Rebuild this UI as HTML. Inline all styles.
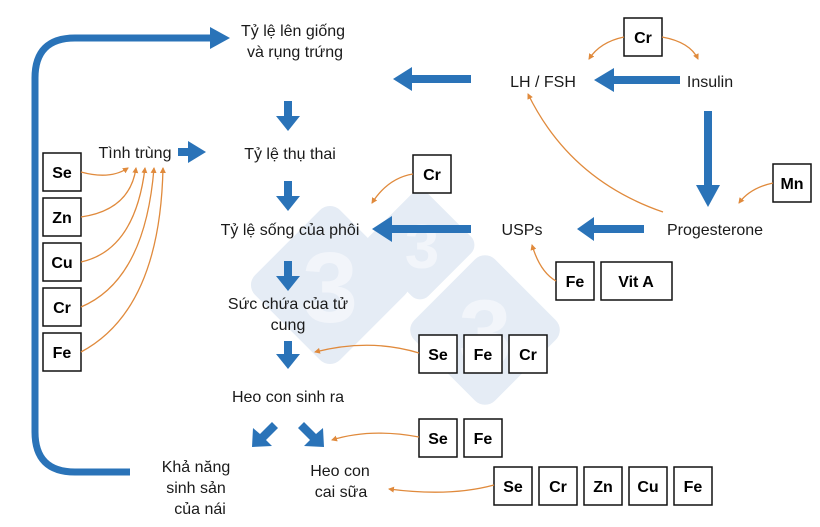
<!DOCTYPE html>
<html><head><meta charset="utf-8"><style>
html,body{margin:0;padding:0;background:#fff;}
svg{display:block}
text{font-family:"Liberation Sans","DejaVu Sans",sans-serif;font-size:16px;fill:#1a1a1a}
.b{font-weight:bold;font-size:16px;fill:#000}
.bx{fill:#fff;stroke:#111;stroke-width:1.5}
.o{fill:none;stroke:#e08a3c;stroke-width:1.3}
.bl{fill:#2a73b8}
</style></head><body>
<svg width="820" height="527" viewBox="0 0 820 527" xmlns="http://www.w3.org/2000/svg">
<defs>
<marker id="oa" markerWidth="6" markerHeight="6" refX="5" refY="3" orient="auto" markerUnits="userSpaceOnUse"><path d="M0,0 L6,3 L0,6 Z" fill="#e08a3c"/></marker>
</defs>
<g fill="#e5ecf5">
<rect x="270" y="225" width="120" height="120" rx="14" transform="rotate(45 330 285)"/>
<rect x="378" y="203" width="84" height="84" rx="12" transform="rotate(45 420 245)"/>
<rect x="428" y="273" width="114" height="114" rx="14" transform="rotate(45 485 330)"/>
</g>
<g font-family="Liberation Sans,sans-serif" font-weight="bold" text-anchor="middle">
<text x="330" y="322" style="fill:#f2f5fa;font-size:100px">3</text>
<text x="422" y="268" style="fill:#f2f5fa;font-size:62px">3</text>
<text x="485" y="366" style="fill:#f2f5fa;font-size:95px">3</text>
</g>
<path d="M130,472 L75,472 Q35,472 35,432 L35,78 Q35,38 75,38 L212,38" fill="none" stroke="#2a73b8" stroke-width="7"/>
<polygon class="bl" points="210,27 230,38 210,49"/>
<g class="bl">
<rect x="284" y="101" width="8" height="17"/><polygon points="276,116 300,116 288,131"/>
<rect x="284" y="181" width="8" height="17"/><polygon points="276,196 300,196 288,211"/>
<rect x="284" y="261" width="8" height="17"/><polygon points="276,276 300,276 288,291"/>
<rect x="284" y="341" width="8" height="15"/><polygon points="276,354 300,354 288,369"/>
<rect x="178" y="148" width="12" height="8"/><polygon points="188,141 206,152 188,163"/>
<rect x="410" y="75" width="61" height="8"/><polygon points="412,67 393,79 412,91"/>
<rect x="612" y="76" width="68" height="8"/><polygon points="614,68 594,80 614,92"/>
<rect x="704" y="111" width="8" height="76"/><polygon points="696,185 720,185 708,207"/>
<rect x="592" y="225" width="52" height="8"/><polygon points="594,217 577,229 594,241"/>
<rect x="390" y="225" width="81" height="8"/><polygon points="392,216 372,229 392,242"/>
<polygon points="272,422 278,428 266,440 272,446 252,447 253,428 260,434"/>
<polygon points="304,422 298,428 310,440 304,446 324,447 323,428 316,434"/>
</g>
<g text-anchor="middle">
<text x="293" y="36">Tỷ lệ lên giống</text>
<text x="295" y="57">và rụng trứng</text>
<text x="135" y="158">Tình trùng</text>
<text x="290" y="159">Tỷ lệ thụ thai</text>
<text x="290" y="235">Tỷ lệ sống của phôi</text>
<text x="288" y="309">Sức chứa của tử</text>
<text x="288" y="330">cung</text>
<text x="288" y="402">Heo con sinh ra</text>
<text x="196" y="472">Khả năng</text>
<text x="196" y="493">sinh sản</text>
<text x="200" y="514">của nái</text>
<text x="340" y="476">Heo con</text>
<text x="341" y="497">cai sữa</text>
<text x="543" y="87">LH / FSH</text>
<text x="710" y="87">Insulin</text>
<text x="715" y="235">Progesterone</text>
<text x="522" y="235">USPs</text>
</g>
<g>
<rect class="bx" x="43" y="153" width="38" height="38"/>
<rect class="bx" x="43" y="198" width="38" height="38"/>
<rect class="bx" x="43" y="243" width="38" height="38"/>
<rect class="bx" x="43" y="288" width="38" height="38"/>
<rect class="bx" x="43" y="333" width="38" height="38"/>
<rect class="bx" x="624" y="18" width="38" height="38"/>
<rect class="bx" x="773" y="164" width="38" height="38"/>
<rect class="bx" x="413" y="155" width="38" height="38"/>
<rect class="bx" x="556" y="262" width="38" height="38"/>
<rect class="bx" x="601" y="262" width="71" height="38"/>
<rect class="bx" x="419" y="335" width="38" height="38"/>
<rect class="bx" x="464" y="335" width="38" height="38"/>
<rect class="bx" x="509" y="335" width="38" height="38"/>
<rect class="bx" x="419" y="419" width="38" height="38"/>
<rect class="bx" x="464" y="419" width="38" height="38"/>
<rect class="bx" x="494" y="467" width="38" height="38"/>
<rect class="bx" x="539" y="467" width="38" height="38"/>
<rect class="bx" x="584" y="467" width="38" height="38"/>
<rect class="bx" x="629" y="467" width="38" height="38"/>
<rect class="bx" x="674" y="467" width="38" height="38"/>
</g>
<g text-anchor="middle">
<text class="b" x="62" y="178">Se</text>
<text class="b" x="62" y="223">Zn</text>
<text class="b" x="62" y="268">Cu</text>
<text class="b" x="62" y="313">Cr</text>
<text class="b" x="62" y="358">Fe</text>
<text class="b" x="643" y="43">Cr</text>
<text class="b" x="792" y="189">Mn</text>
<text class="b" x="432" y="180">Cr</text>
<text class="b" x="575" y="287">Fe</text>
<text class="b" x="636" y="287">Vit A</text>
<text class="b" x="438" y="360">Se</text>
<text class="b" x="483" y="360">Fe</text>
<text class="b" x="528" y="360">Cr</text>
<text class="b" x="438" y="444">Se</text>
<text class="b" x="483" y="444">Fe</text>
<text class="b" x="513" y="492">Se</text>
<text class="b" x="558" y="492">Cr</text>
<text class="b" x="603" y="492">Zn</text>
<text class="b" x="648" y="492">Cu</text>
<text class="b" x="693" y="492">Fe</text>
</g>
<g class="o" marker-end="url(#oa)">
<path d="M81,172 Q110,180 128,168"/>
<path d="M81,217 Q130,210 136,168"/>
<path d="M81,262 Q135,250 145,168"/>
<path d="M81,307 Q145,280 154,168"/>
<path d="M81,352 Q160,310 163,168"/>
<path d="M624,37 Q600,42 589,59"/>
<path d="M662,37 Q690,42 698,59"/>
<path d="M773,183 Q750,188 739,203"/>
<path d="M663,212 Q570,180 528,94"/>
<path d="M413,174 Q388,178 372,203"/>
<path d="M556,281 Q540,272 532,245"/>
<path d="M419,353 Q370,338 315,352"/>
<path d="M419,437 Q370,428 332,440"/>
<path d="M494,485 Q450,497 389,489"/>
</g>
</svg>
</body></html>
